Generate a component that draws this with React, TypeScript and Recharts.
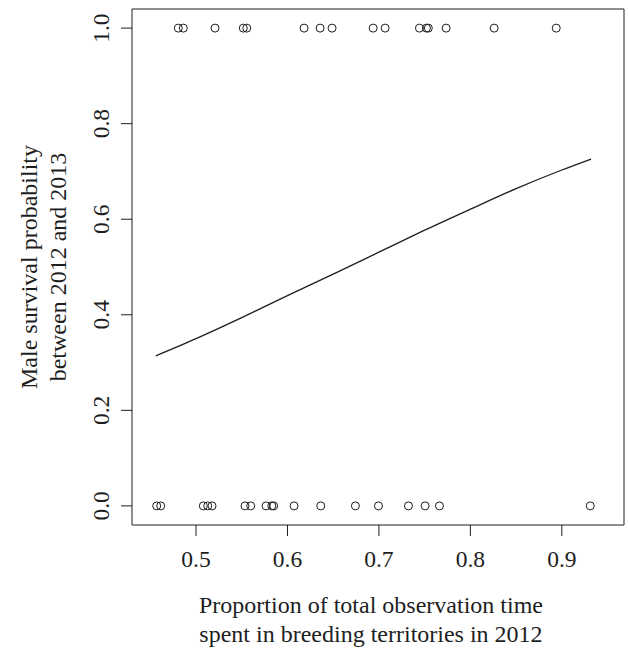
import React from "react";
import {
  ComposedChart,
  XAxis,
  YAxis,
  Scatter,
  Line,
  ReferenceArea,
} from "recharts";

// Males that survived (y = 1) and did not survive (y = 0)
const survivedX = [
  0.4806, 0.4861, 0.5208, 0.5517, 0.5555, 0.6182, 0.6357, 0.6488, 0.6937,
  0.7068, 0.7443, 0.752, 0.754, 0.7735, 0.826, 0.8939,
];
const diedX = [
  0.457, 0.4614, 0.508, 0.5128, 0.5175, 0.5536, 0.5598, 0.5766, 0.5829,
  0.5849, 0.6072, 0.6364, 0.6743, 0.6995, 0.7323, 0.7505, 0.7662, 0.9311,
];

// Fitted curve
const curveX = [0.456, 0.5, 0.55, 0.6, 0.65, 0.7, 0.75, 0.8, 0.85, 0.9, 0.932];
const curveY = [0.314, 0.35, 0.394, 0.44, 0.485, 0.531, 0.577, 0.621, 0.664, 0.703, 0.726];

const xTicks = [0.5, 0.6, 0.7, 0.8, 0.9];
const yTicks = [0, 0.2, 0.4, 0.6, 0.8, 1.0];
const xDomain: [number, number] = [0.43, 0.968];
const yDomain: [number, number] = [-0.04, 1.04];

const xTitle = ["Proportion of total observation time", "spent in breeding territories in 2012"];
const yTitle = ["Male survival probability", "between 2012 and 2013"];

const points = [
  ...survivedX.map((x) => ({ x, y: 1 })),
  ...diedX.map((x) => ({ x, y: 0 })),
];
const curve = curveX.map((x, i) => ({ x, y: curveY[i] }));

const FONT = "'Liberation Serif', 'Times New Roman', serif";
const INK = "#1e1e1e";
const TICK_FS = 23.5;
const TITLE_FS = 24;

const XTick = (props: any) => {
  const { x, y, payload } = props;
  return (
    <text x={x} y={y + 29} textAnchor="middle" fontFamily={FONT} fontSize={TICK_FS} fill={INK}>
      {payload.value.toFixed(1)}
    </text>
  );
};

const YTick = (props: any) => {
  const { x, y, payload } = props;
  const tx = x - 10;
  return (
    <text
      x={tx}
      y={y}
      transform={`rotate(-90, ${tx}, ${y})`}
      textAnchor="middle"
      fontFamily={FONT}
      fontSize={TICK_FS}
      fill={INK}
    >
      {payload.value.toFixed(1)}
    </text>
  );
};

const Circle = (props: any) => {
  const { cx, cy } = props;
  return <circle cx={cx} cy={cy} r={4} fill="none" stroke={INK} strokeWidth={1} />;
};

const XTitle = (props: any) => {
  const vb = props.viewBox || {};
  const cx = vb.x + vb.width / 2 - 7;
  return (
    <g>
      {xTitle.map((t, i) => (
        <text
          key={i}
          x={cx}
          y={vb.y + 88 + i * 29}
          textAnchor="middle"
          fontFamily={FONT}
          fontSize={TITLE_FS}
          fill={INK}
        >
          {t}
        </text>
      ))}
    </g>
  );
};

const YTitle = (props: any) => {
  const vb = props.viewBox || {};
  const cy = vb.y + vb.height / 2;
  const xs = [37, 66];
  return (
    <g>
      {yTitle.map((t, i) => (
        <text
          key={i}
          x={xs[i]}
          y={cy}
          transform={`rotate(-90, ${xs[i]}, ${cy})`}
          textAnchor="middle"
          fontFamily={FONT}
          fontSize={TITLE_FS}
          fill={INK}
        >
          {t}
        </text>
      ))}
    </g>
  );
};

export default function App() {
  return (
    <div style={{ position: "absolute", left: 0, top: 0, background: "#fff" }}>
      <ComposedChart
        width={628}
        height={650}
        margin={{ top: 9, right: 4, bottom: 0, left: 0 }}
      >
        <XAxis
          type="number"
          dataKey="x"
          domain={xDomain}
          ticks={xTicks}
          allowDataOverflow
          height={125}
          tickSize={11}
          tickMargin={2}
          axisLine={false}
          tickLine={{ stroke: INK, strokeWidth: 1 }}
          tick={<XTick />}
          label={{ content: <XTitle /> }}
        />
        <YAxis
          type="number"
          dataKey="y"
          domain={yDomain}
          ticks={yTicks}
          allowDataOverflow
          width={132}
          tickSize={11}
          tickMargin={2}
          axisLine={false}
          tickLine={{ stroke: INK, strokeWidth: 1 }}
          tick={<YTick />}
          label={{ content: <YTitle /> }}
        />
        <ReferenceArea
          x1={xDomain[0]}
          x2={xDomain[1]}
          y1={yDomain[0]}
          y2={yDomain[1]}
          fill="none"
          fillOpacity={0}
          stroke={INK}
          strokeWidth={1}
          strokeOpacity={1}
          ifOverflow="visible"
        />
        <Line
          data={curve}
          dataKey="y"
          type="monotone"
          stroke={INK}
          strokeWidth={1.3}
          dot={false}
          activeDot={false}
          isAnimationActive={false}
        />
        <Scatter
          data={points}
          dataKey="y"
          shape={<Circle />}
          isAnimationActive={false}
        />
      </ComposedChart>
    </div>
  );
}
